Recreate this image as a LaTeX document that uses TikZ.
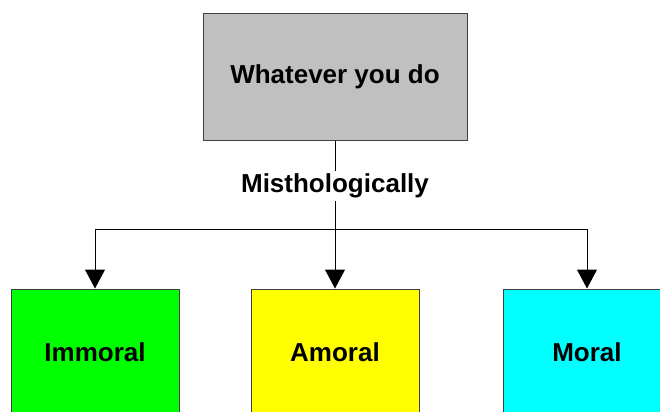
\documentclass[tikz,border=0pt]{standalone}
\usepackage{fontspec}
\setmainfont{Liberation Sans}
\usetikzlibrary{arrows.meta,positioning}
\definecolor{boxgray}{HTML}{C0C0C0}
\definecolor{boxgreen}{HTML}{00FF00}
\definecolor{boxyellow}{HTML}{FFFF00}
\definecolor{boxcyan}{HTML}{00FFFF}
\definecolor{edge}{HTML}{404040}
\begin{document}
\begin{tikzpicture}[x=0.5pt,y=-0.5pt,>={Triangle[width=10pt,length=9.5pt]},
  box/.style={draw=edge,line width=0.5pt,minimum width=84pt,minimum height=63.5pt,
    inner sep=0pt,font=\fontsize{13}{15}\selectfont\bfseries},
  conn/.style={draw=black,line width=0.5pt}]
  \useasboundingbox (0,0) rectangle (660,412);
  \clip (0,0) rectangle (660,412);
  \node[box,fill=boxgray,minimum width=132pt] (whatever) at (335,76.5) {Whatever you do};
  \node[font=\fontsize{13}{15}\selectfont\bfseries,inner sep=0pt,minimum height=15pt] (mist) at (335,186) {Misthologically};
  \coordinate (split) at (335,229);
  \node[box,fill=boxgreen] (immoral) at (95,352.5) {Immoral};
  \node[box,fill=boxyellow] (amoral) at (335,352.5) {Amoral};
  \node[box,fill=boxcyan] (moral) at (587,352.5) {Moral};
  \draw[conn] (whatever.south) -- (mist.north);
  \draw[conn] (mist.south) -- (split);
  \draw[conn,->] (split) -| (immoral.north);
  \draw[conn,->] (split) -- (amoral.north);
  \draw[conn,->] (split) -| (moral.north);
\end{tikzpicture}
\end{document}
